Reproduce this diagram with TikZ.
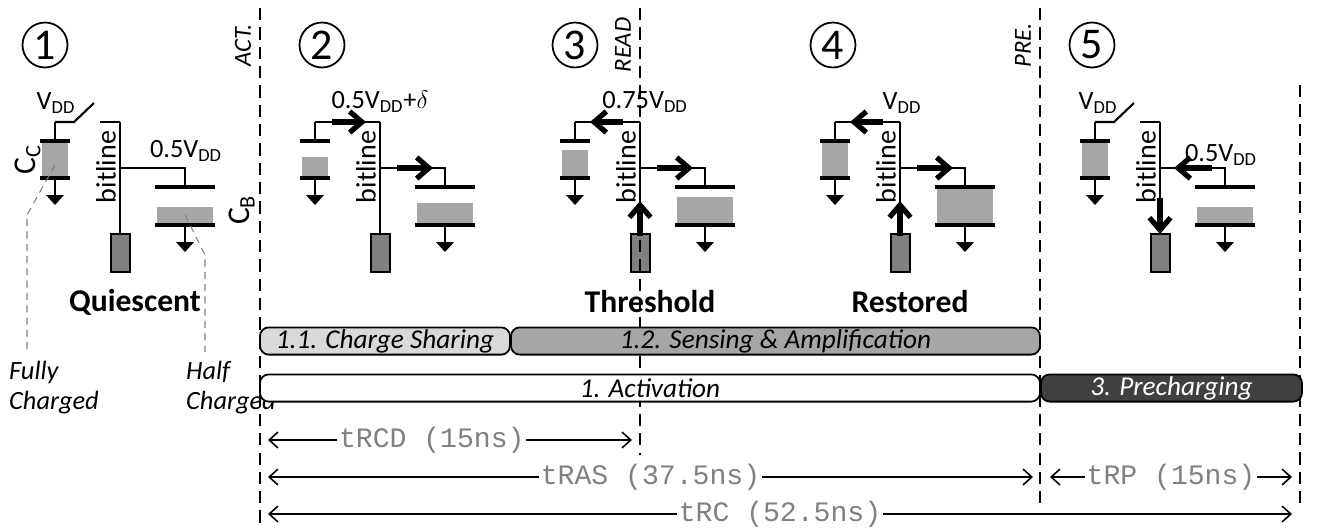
\documentclass[tikz,border=0pt]{standalone}
\usepackage{fontspec}
\setmainfont{Carlito}
\newfontfamily\monofont{Liberation Mono}
\usetikzlibrary{arrows.meta}
\definecolor{capgray}{RGB}{166,166,166}
\definecolor{amp}{RGB}{128,128,128}
\definecolor{dark}{RGB}{64,64,64}
\tikzset{
  wire/.style={line width=1.2pt},
  plate/.style={line width=2.6pt},
  flow/.style={line width=3pt, -{Straight Barb[length=7pt,width=12pt]}},
  marker/.style={line width=1.3pt, dash pattern=on 7pt off 4pt},
  note/.style={gray, dash pattern=on 4pt off 3pt, line width=0.6pt},
  phase/.style={draw, line width=1pt, rounded corners=5pt, minimum height=15.5pt, inner sep=0pt, font=\fontsize{15.5}{17}\selectfont\itshape},
  span/.style={line width=0.9pt, {Straight Barb[length=5pt,width=9pt]}-{Straight Barb[length=5pt,width=9pt]}},
  timing/.style={fill=white, inner sep=1pt, text=gray, font=\monofont\fontsize{16}{17}\selectfont},
  stepnum/.style={draw, circle, line width=1pt, minimum size=0.9cm, inner sep=0pt, font=\fontsize{25}{27}\selectfont},
  lbl/.style={font=\fontsize{15}{17}\selectfont},
  title/.style={font=\fontsize{18}{20}\selectfont\bfseries},
}
% one cell + bitline + sense amp, shifted by #1; #2/#3 = top of the charge in C_C/C_B
\newcommand{\drampanel}[3]{
  \fill[capgray] (#1+42,#2) rectangle (#1+68,178);
  \fill[capgray] (#1+157,#3) rectangle (#1+213,225);
  \draw[plate] (#1+40,141) -- (#1+70,141) (#1+40,178) -- (#1+70,178);
  \draw[plate] (#1+155,187) -- (#1+215,187) (#1+155,225) -- (#1+215,225);
  \draw[wire] (#1+55,178) -- (#1+55,196) (#1+185,225) -- (#1+185,243);
  \fill (#1+46,195) -- (#1+64,195) -- (#1+55,205) -- cycle;
  \fill (#1+176,242) -- (#1+194,242) -- (#1+185,252) -- cycle;
  \draw[wire] (#1+120,122) -- (#1+120,234);
  \draw[wire] (#1+120,168) -- (#1+185,168) -- (#1+185,187);
  \draw[wire] (#1+55,141) -- (#1+55,122);
  \draw[line width=1.3pt, fill=amp] (#1+111,234) rectangle (#1+130,272);
  \node[font=\fontsize{16}{18}\selectfont, rotate=90] at (#1+106,167) {bitline};
}
\begin{document}
\begin{tikzpicture}[x=0.02cm, y=-0.02cm]
  \useasboundingbox (0,0) rectangle (1318,528);

  % Panels
  \drampanel{0}{141}{207}
  \drampanel{260}{157}{203}
  \drampanel{520}{150}{197}
  \drampanel{780}{141}{187}
  \drampanel{1040}{141}{207}

  % Open switches and bitline hooks (1, 5)
  \foreach \ox in {0,1040} {
    \draw[wire] (\ox+55,122) -- (\ox+74,122) -- (\ox+94,103);
    \draw[wire] (\ox+100,122) -- (\ox+120,122);
  }
  % Closed connections (2, 3, 4)
  \foreach \ox in {260,520,780}
    \draw[wire] (\ox+55,122) -- (\ox+120,122);

  % Charge flow
  \draw[flow] (332,122) -- (366,122);
  \draw[flow] (397,168) -- (433,168);
  \draw[flow] (623,122) -- (590,122);
  \draw[flow] (657,168) -- (693,168);
  \draw[flow] (640,236) -- (640,201);
  \draw[flow] (883,122) -- (850,122);
  \draw[flow] (917,168) -- (953,168);
  \draw[flow] (900,236) -- (900,201);
  \draw[flow] (1212,168) -- (1174,168);
  \draw[flow] (1160,198) -- (1160,234);

  % Step numbers
  \node[stepnum] (s1) at (45,45) {1};
  \node[stepnum] (s2) at (322,45) {2};
  \node[stepnum] (s3) at (575,45) {3};
  \node[stepnum] (s4) at (833,45) {4};
  \node[stepnum] (s5) at (1092,45) {5};

  % Voltage and capacitor labels
  \node[lbl] at (56,103) {V\textsubscript{DD}};
  \node[lbl] at (186,151) {0.5V\textsubscript{DD}};
  \node[lbl, font=\fontsize{18}{20}\selectfont, rotate=90] at (28,160) {C\textsubscript{C}};
  \node[lbl, font=\fontsize{18}{20}\selectfont, rotate=90] at (242,210) {C\textsubscript{B}};
  \node[lbl] at (380,102) {0.5V\textsubscript{DD}+$\delta$};
  \node[lbl] at (645,102) {0.75V\textsubscript{DD}};
  \node[lbl] at (902,103) {V\textsubscript{DD}};
  \node[lbl] at (1098,103) {V\textsubscript{DD}};
  \node[lbl] at (1221,155) {0.5V\textsubscript{DD}};

  \node[title] at (135,302) {Quiescent};
  \node[title] at (650,302) {Threshold};
  \node[title] at (910,302) {Restored};

  % Notes
  \draw[note] (55,165) -- (27,215) -- (27,352);
  \draw[note] (185,215) -- (205,255) -- (205,352);
  \node[font=\fontsize{15}{17}\selectfont\itshape, align=left, anchor=north west] at (3,355) {Fully\\Charged};
  \node[font=\fontsize{15}{17}\selectfont\itshape, align=left, anchor=north west] at (180,355) {Half\\Charged};

  % Command markers
  \draw[marker] (260,8) -- (260,528);
  \draw[marker] (640,8) -- (640,455);
  \draw[marker] (1040,8) -- (1040,505);
  \draw[marker] (1300,85) -- (1300,505);
  \node[font=\fontsize{14}{16}\selectfont\itshape, rotate=90] at (243,45) {ACT.};
  \node[font=\fontsize{14}{16}\selectfont\itshape, rotate=90] at (623,45) {READ};
  \node[font=\fontsize{14}{16}\selectfont\itshape, rotate=90] at (1023,45) {PRE.};

  % Phases
  \node[phase, fill=gray!30, minimum width=250*0.02cm] (share) at (385,341) {1.1. Charge Sharing};
  \node[phase, fill=capgray, minimum width=529*0.02cm] (sense) at (775.5,341) {1.2. Sensing \& Amplification};
  \node[phase, fill=white, minimum width=780*0.02cm] (act) at (650,388) {1. Activation};
  \node[phase, fill=dark, text=white, minimum width=261*0.02cm] (pre) at (1171.5,388) {3. Precharging};

  % Timings
  \coordinate (rcdL) at (268,440);
  \coordinate (rcdR) at (632,440);
  \coordinate (rasL) at (268,477);
  \coordinate (rasR) at (1033,477);
  \coordinate (rpL) at (1050,477);
  \coordinate (rpR) at (1292,477);
  \coordinate (rcL) at (268,514);
  \coordinate (rcR) at (1292,514);
  \draw[span] (rcdL) -- (rcdR) node[timing, pos=0.45] {tRCD (15ns)};
  \draw[span] (rasL) -- (rasR) node[timing, pos=0.5] {tRAS (37.5ns)};
  \draw[span] (rpL) -- (rpR) node[timing, pos=0.5] {tRP (15ns)};
  \draw[span] (rcL) -- (rcR) node[timing, pos=0.5] {tRC (52.5ns)};
\end{tikzpicture}
\end{document}
